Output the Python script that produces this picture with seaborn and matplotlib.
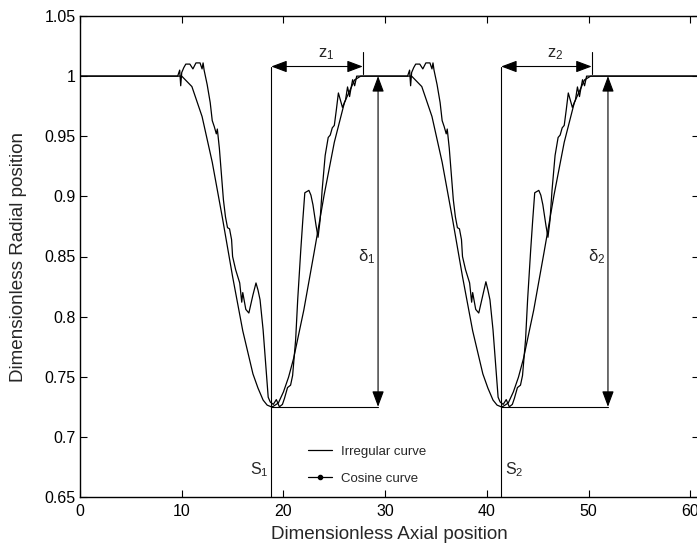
import matplotlib
matplotlib.use("Agg")
import matplotlib.pyplot as plt
import seaborn as sns
import pandas as pd
from matplotlib.lines import Line2D

# ---------------- data ----------------
irr_x = [0, 9.6, 9.8, 9.9, 10.0, 10.2, 10.4, 10.8, 11.1, 11.4, 11.8, 12.0, 12.1, 12.2, 12.5,
         12.8, 13.0, 13.2, 13.4, 13.5, 13.7, 13.9, 14.1, 14.3, 14.5, 14.7, 14.9, 15.0, 15.3,
         15.7, 15.9, 16.0, 16.3, 16.6, 17.0, 17.3, 17.5, 17.7, 18.0, 18.3, 18.5, 18.7, 19.0,
         19.3, 19.6, 19.9, 20.1, 20.4, 20.7, 20.9, 21.2, 21.4, 21.7, 21.9, 22.1, 22.3, 22.5,
         22.7, 22.9, 23.2, 23.4, 23.6, 23.8, 24.1, 24.4, 24.6, 24.8, 25.0, 25.2, 25.4, 25.6,
         25.8, 26.1, 26.3, 26.5, 26.6, 26.8, 27.0, 27.2,
         32.2, 32.4, 32.5, 32.6, 32.8, 33.0, 33.4, 33.7, 34.0, 34.4, 34.6, 34.7, 34.8, 35.1,
         35.4, 35.6, 35.8, 36.0, 36.1, 36.3, 36.5, 36.7, 36.9, 37.1, 37.3, 37.5, 37.6, 37.9,
         38.3, 38.5, 38.6, 38.9, 39.2, 39.6, 39.9, 40.1, 40.3, 40.6, 40.9, 41.1, 41.3, 41.6,
         41.9, 42.2, 42.5, 42.7, 43.0, 43.3, 43.5, 43.8, 44.0, 44.3, 44.5, 44.7, 44.9, 45.1,
         45.3, 45.5, 45.8, 46.0, 46.2, 46.4, 46.7, 47.0, 47.2, 47.4, 47.6, 47.8, 48.0, 48.2,
         48.4, 48.7, 48.9, 49.1, 49.2, 49.4, 49.6, 49.8, 61.0]
irr_y = [1.0, 1.0, 1.005, 0.992, 1.003, 1.007, 1.010, 1.010, 1.006, 1.011, 1.011, 1.006, 1.011, 1.005, 0.993,
         0.978, 0.963, 0.958, 0.952, 0.956, 0.940, 0.918, 0.897, 0.883, 0.874, 0.873, 0.864, 0.850, 0.839,
         0.828, 0.812, 0.820, 0.806, 0.803, 0.818, 0.828, 0.822, 0.814, 0.789, 0.756, 0.733, 0.729, 0.727,
         0.731, 0.725, 0.727, 0.732, 0.741, 0.743, 0.751, 0.781, 0.814, 0.855, 0.880, 0.903, 0.904, 0.905,
         0.901, 0.893, 0.876, 0.866, 0.880, 0.905, 0.934, 0.949, 0.951, 0.957, 0.959, 0.972, 0.986, 0.980,
         0.974, 0.980, 0.991, 0.983, 0.988, 0.997, 0.992, 1.0,
         1.0, 1.005, 0.992, 1.003, 1.007, 1.010, 1.010, 1.006, 1.011, 1.011, 1.006, 1.011, 1.005, 0.993,
         0.978, 0.963, 0.958, 0.952, 0.956, 0.940, 0.918, 0.897, 0.883, 0.874, 0.873, 0.864, 0.850, 0.839,
         0.828, 0.812, 0.820, 0.806, 0.803, 0.818, 0.829, 0.822, 0.814, 0.789, 0.756, 0.733, 0.729, 0.727,
         0.731, 0.725, 0.727, 0.732, 0.741, 0.743, 0.751, 0.781, 0.814, 0.855, 0.880, 0.903, 0.904, 0.905,
         0.901, 0.893, 0.876, 0.866, 0.880, 0.905, 0.934, 0.949, 0.951, 0.957, 0.959, 0.972, 0.986, 0.980,
         0.974, 0.980, 0.991, 0.983, 0.988, 0.997, 0.992, 1.0, 1.0]

cos_x = [0, 10.0, 11.0, 12.0, 13.0, 14.0, 15.0, 16.0, 17.0, 17.5, 18.0, 18.4, 18.8, 19.0, 19.5,
         20.0, 20.5, 21.0, 22.0, 23.0, 24.0, 25.0, 26.0, 27.0, 27.6,
         32.6, 33.6, 34.6, 35.6, 36.6, 37.6, 38.6, 39.6, 40.1, 40.6, 41.0, 41.4, 41.6, 42.1,
         42.6, 43.1, 43.6, 44.6, 45.6, 46.6, 47.6, 48.6, 49.6, 50.2, 61.0]
cos_y = [1.0, 1.0, 0.9913, 0.9664, 0.9284, 0.8821, 0.8333, 0.7882, 0.7524, 0.7405, 0.7306, 0.7264, 0.725, 0.7254, 0.7282,
         0.7374, 0.7496, 0.7653, 0.8054, 0.8527, 0.9012, 0.9450, 0.9782, 0.9969, 1.0,
         1.0, 0.9913, 0.9664, 0.9284, 0.8821, 0.8333, 0.7882, 0.7524, 0.7405, 0.7306, 0.7264, 0.725, 0.7254, 0.7282,
         0.7374, 0.7496, 0.7653, 0.8054, 0.8527, 0.9012, 0.9450, 0.9782, 0.9969, 1.0, 1.0]

s_pos = [18.8, 41.4]
s_labels = ["S$_1$", "S$_2$"]
z_end = [27.8, 50.3]
z_labels = ["z$_1$", "z$_2$"]
delta_x = [29.3, 51.9]
delta_labels = ["δ$_1$", "δ$_2$"]
y_min = 0.725
y_top = 1.0
z_level = 1.008

x_ticks = [0, 10, 20, 30, 40, 50, 60]
y_ticks = [0.65, 0.7, 0.75, 0.8, 0.85, 0.9, 0.95, 1.0, 1.05]
y_ticklabels = ["0.65", "0.7", "0.75", "0.8", "0.85", "0.9", "0.95", "1", "1.05"]

# ---------------- plot ----------------
sns.set_style("ticks")
plt.rcParams['font.family'] = ['Liberation Sans', 'DejaVu Sans']
plt.rcParams['mathtext.fontset'] = 'custom'
plt.rcParams['mathtext.rm'] = 'Liberation Sans'
plt.rcParams['mathtext.it'] = 'Liberation Sans'

fig = plt.figure(figsize=(6.97, 5.48), dpi=100)
W, H = 697, 548
ax = fig.add_axes([80 / W, 51 / H, 618.5 / W, 481 / H])

df_irr = pd.DataFrame({"x": irr_x, "y": irr_y})
df_cos = pd.DataFrame({"x": cos_x, "y": cos_y})
sns.lineplot(data=df_irr, x="x", y="y", ax=ax, sort=False, estimator=None,
             color="black", lw=0.9)
sns.lineplot(data=df_cos, x="x", y="y", ax=ax, sort=False, estimator=None,
             color="black", lw=0.9)

ax.set_xlim(0, 60.8)
ax.set_ylim(0.65, 1.05)
ax.set_xticks(x_ticks)
ax.set_yticks(y_ticks)
ax.set_yticklabels(y_ticklabels)
ax.tick_params(direction="in", length=5, width=0.8, top=True, right=True,
               labelsize=11.5, colors="black")
ax.tick_params(axis="x", pad=5)
ax.tick_params(axis="y", pad=3)
for sp in ax.spines.values():
    sp.set_linewidth(1.0)
    sp.set_color("black")
ax.set_xlabel("Dimensionless Axial position", fontsize=13.6, labelpad=5)
ax.set_ylabel("Dimensionless Radial position", fontsize=13.6, labelpad=13)

arrow_kw = dict(arrowstyle="<|-|>,head_length=0.8,head_width=0.3", color="black", lw=0.8,
                mutation_scale=12, shrinkA=0, shrinkB=0)
for i in range(2):
    s = s_pos[i]
    ax.plot([s, s], [0.65, z_level], color="black", lw=0.8)
    ax.plot([s, delta_x[i]], [y_min, y_min], color="black", lw=0.8)
    ax.annotate("", xy=(z_end[i], z_level), xytext=(s, z_level), arrowprops=arrow_kw)
    ax.plot([z_end[i], z_end[i]], [z_level - 0.006, z_level + 0.012], color="black", lw=0.8)
    ax.text((s + z_end[i]) / 2 + 0.9, z_level + 0.004, z_labels[i], fontsize=12,
            ha="center", va="bottom")
    ax.annotate("", xy=(delta_x[i], y_min), xytext=(delta_x[i], y_top), arrowprops=arrow_kw)
    ax.text(delta_x[i] - 0.3, 0.85, delta_labels[i], fontsize=12, ha="right", va="center")

ax.text(s_pos[0] - 0.3, 0.673, s_labels[0], fontsize=11.5, ha="right", va="center")
ax.text(s_pos[1] + 0.4, 0.673, s_labels[1], fontsize=11.5, ha="left", va="center")

handles = [Line2D([0], [0], color="black", lw=0.9),
           Line2D([0], [0], color="black", lw=0.9, marker=".", markersize=6)]
ax.legend(handles, ["Irregular curve", "Cosine curve"], frameon=False, fontsize=9.5,
          loc="center left", bbox_to_anchor=(0.35, 0.066), handlelength=1.8,
          handletextpad=0.7, labelspacing=1.1)

fig.savefig("out.png", dpi=100)
